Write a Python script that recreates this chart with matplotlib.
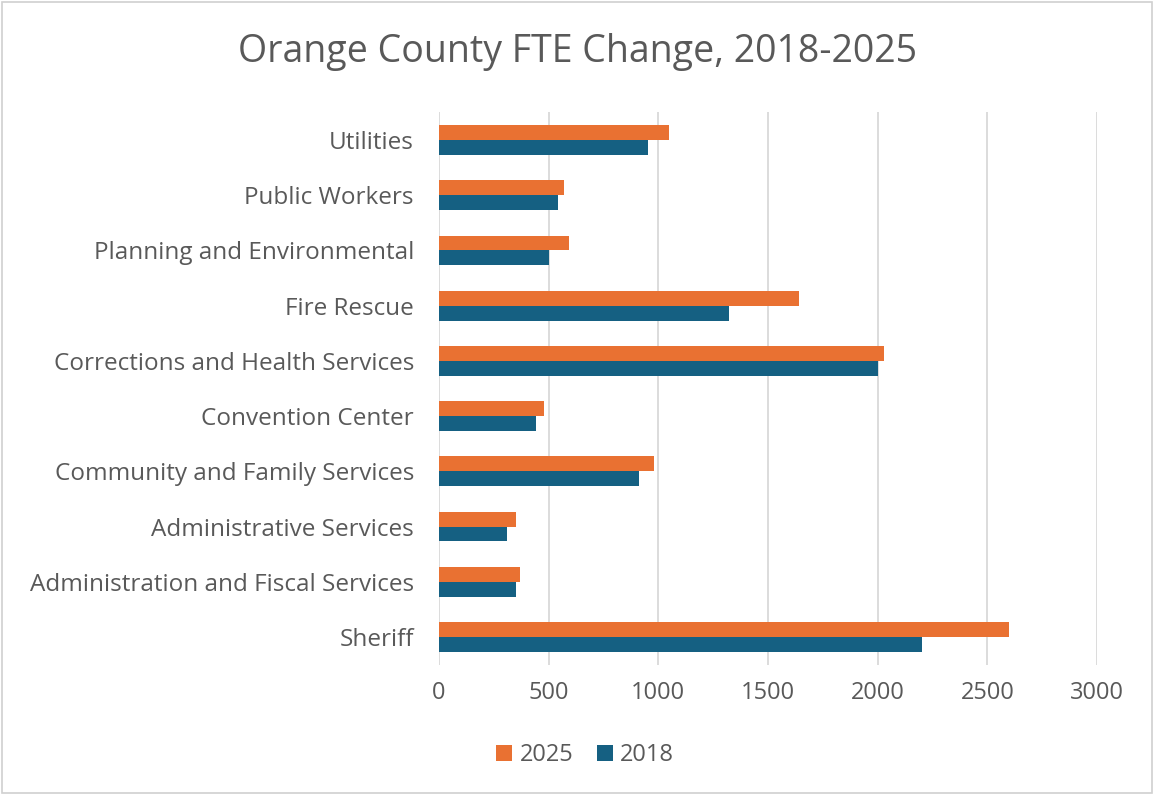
import numpy as np
import matplotlib.pyplot as plt
from matplotlib.patches import Rectangle

categories = ['Sheriff', 'Administration and Fiscal Services', 'Administrative Services',
              'Community and Family Services', 'Convention Center',
              'Corrections and Health Services', 'Fire Rescue',
              'Planning and Environmental', 'Public Workers', 'Utilities']
fte_2025 = [2600, 370, 350, 982, 481, 2030, 1643, 591, 571, 1050]
fte_2018 = [2200, 350, 311, 912, 442, 2003, 1323, 501, 541, 951]
xticks = [0, 500, 1000, 1500, 2000, 2500, 3000]

plt.rcParams['font.family'] = ['Open Sans', 'DejaVu Sans']
grey = '#595959'
orange = '#E97132'
blue = '#156082'

fig = plt.figure(figsize=(11.54, 7.95), dpi=100)
ax = fig.add_axes([0.3804, 0.164, 0.5702, 0.6946])

y = np.arange(len(categories))
h = 0.27
ax.barh(y + h / 2, fte_2025, height=h, color=orange, label='2025', zorder=3)
ax.barh(y - h / 2, fte_2018, height=h, color=blue, label='2018', zorder=3)

ax.set_xlim(0, 3000)
ax.set_ylim(-0.5, len(categories) - 0.5)
ax.set_xticks(xticks)
ax.set_xticklabels([str(t) for t in xticks], fontsize=17, color=grey)
ax.set_yticks(y)
ax.set_yticklabels(categories, fontsize=17.5, color=grey)
ax.tick_params(axis='both', length=0)
ax.tick_params(axis='x', pad=12)
ax.tick_params(axis='y', pad=18)
ax.grid(axis='x', color='#d9d9d9', linewidth=1.3, zorder=0)
for s in ax.spines.values():
    s.set_visible(False)

fig.suptitle('Orange County FTE Change, 2018-2025', fontsize=27, color=grey, y=0.958)

fig.legend(loc='center', bbox_to_anchor=(0.507, 0.05), ncol=2, frameon=False,
           fontsize=17, labelcolor=grey, handlelength=0.7, handleheight=0.7,
           handletextpad=0.3, columnspacing=1.0)

fig.patches.append(Rectangle((0.002, 0.003), 0.996, 0.994, transform=fig.transFigure,
                             fill=False, edgecolor='#d0d0d0', linewidth=1.2))

fig.savefig('out.png', dpi=100)
